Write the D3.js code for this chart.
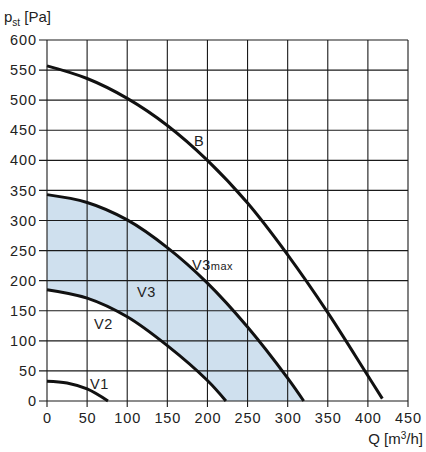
<!DOCTYPE html>
<html>
<head>
<meta charset="utf-8">
<script src="https://cdn.jsdelivr.net/npm/d3@7"></script>
<style>
  body { margin: 0; background: #fff; }
  text { font-family: "Liberation Sans", Arial, sans-serif; }
</style>
</head>
<body>
<svg id="chart" width="426" height="452"></svg>
<script>
// tick values
var xTicks = [0, 50, 100, 150, 200, 250, 300, 350, 400, 450];
var yTicks = [0, 50, 100, 150, 200, 250, 300, 350, 400, 450, 500, 550, 600];

// curves, [Q, pst]
var curveB = [[0, 557], [50, 536], [100, 503], [150, 458], [200, 400], [250, 329], [300, 243], [350, 147], [400, 42], [418, 4]];
var curveV3max = [[0, 343], [50, 330], [100, 301], [150, 255], [200, 196], [250, 123], [300, 38], [320, 0]];
var curveV2 = [[0, 185], [50, 171], [100, 140], [150, 92], [200, 34], [223, 0]];
var curveV1 = [[0, 33], [25, 30], [50, 20], [76, 0]];

var svg = d3.select("#chart");

var x = d3.scaleLinear().domain([0, 450]).range([47, 408]);
var y = d3.scaleLinear().domain([0, 600]).range([401, 40]);

var line = d3.line()
    .x(function (d) { return x(d[0]); })
    .y(function (d) { return y(d[1]); })
    .curve(d3.curveCatmullRom.alpha(0.5));

// shaded working range between V2 and V3max
var zoneD = line(curveV3max) + line(curveV2.slice().reverse()).replace(/^M/, "L") + "Z";
svg.append("path")
    .attr("d", zoneD)
    .attr("fill", "#cfe0ee")
    .attr("stroke", "none");

// grid
var grid = svg.append("g").attr("stroke", "#1a1a1a").attr("stroke-width", 1.1);
grid.selectAll("line.v").data(xTicks).enter().append("line")
    .attr("x1", function (d) { return x(d); })
    .attr("x2", function (d) { return x(d); })
    .attr("y1", y(600))
    .attr("y2", y(0) + 6);
grid.selectAll("line.h").data(yTicks).enter().append("line")
    .attr("y1", function (d) { return y(d); })
    .attr("y2", function (d) { return y(d); })
    .attr("x1", x(0) - 8)
    .attr("x2", x(450));

// axes labels
var xAxis = d3.axisBottom(x).tickValues(xTicks).tickSize(0).tickPadding(12).tickFormat(d3.format("d"));
var gx = svg.append("g").attr("transform", "translate(0," + y(0) + ")").call(xAxis);
gx.select(".domain").remove();
gx.selectAll("text").attr("font-size", 14.5).attr("fill", "#222").attr("letter-spacing", 0.9)
    .attr("font-family", "'Liberation Sans', Arial, sans-serif");

var yAxis = d3.axisLeft(y).tickValues(yTicks).tickSize(0).tickPadding(10).tickFormat(d3.format("d"));
var gy = svg.append("g").attr("transform", "translate(" + x(0) + ",0)").call(yAxis);
gy.select(".domain").remove();
gy.selectAll("text").attr("font-size", 14.5).attr("fill", "#222").attr("letter-spacing", 0.9)
    .attr("font-family", "'Liberation Sans', Arial, sans-serif");

// curves
[curveB, curveV3max, curveV2, curveV1].forEach(function (c) {
    svg.append("path")
        .attr("d", line(c))
        .attr("fill", "none")
        .attr("stroke", "#111")
        .attr("stroke-width", 3);
});

// curve names
var labels = svg.append("g").attr("font-size", 14.5).attr("fill", "#222").attr("letter-spacing", 0.5);
labels.append("text").attr("x", 194).attr("y", 146).text("B");
var v3m = labels.append("text").attr("x", 192).attr("y", 270);
v3m.append("tspan").text("V3");
v3m.append("tspan").attr("font-size", 11).text("max");
labels.append("text").attr("x", 137).attr("y", 297).text("V3");
labels.append("text").attr("x", 94).attr("y", 329).text("V2");
labels.append("text").attr("x", 90).attr("y", 389).text("V1");

// axis titles
var yt = svg.append("text").attr("x", 4).attr("y", 22).attr("font-size", 15).attr("fill", "#222");
yt.append("tspan").text("p");
yt.append("tspan").attr("font-size", 10).attr("dy", 4).text("st");
yt.append("tspan").attr("dy", -4).text(" [Pa]");

var xt = svg.append("text").attr("x", 423).attr("y", 444).attr("text-anchor", "end")
    .attr("font-size", 15).attr("fill", "#222");
xt.append("tspan").text("Q [m");
xt.append("tspan").attr("font-size", 10).attr("dy", -5).text("3");
xt.append("tspan").attr("dy", 5).text("/h]");
</script>
</body>
</html>
